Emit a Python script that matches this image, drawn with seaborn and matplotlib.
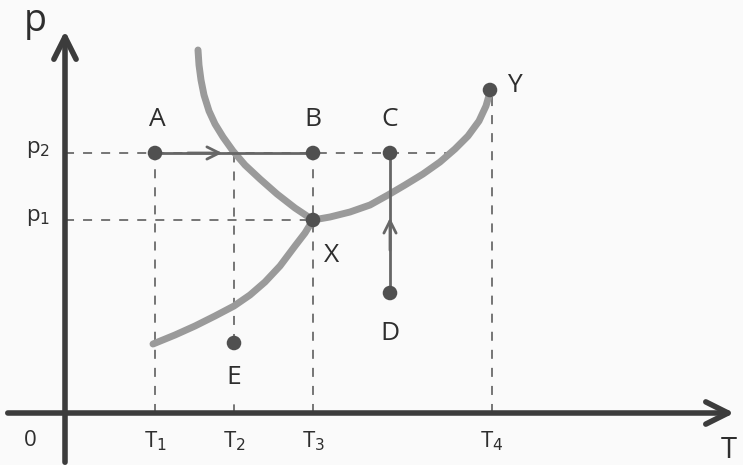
import matplotlib.pyplot as plt
import numpy as np
import pandas as pd
import seaborn as sns

# positions, origin at the axes' crossing
t_ticks = [90, 169, 248, 427]
t_labels = ["T$_1$", "T$_2$", "T$_3$", "T$_4$"]
p_ticks = [193, 260]
p_labels = ["p$_1$", "p$_2$"]

# sublimation curve (solid-gas)
sub_t = [88, 110, 130, 150, 169, 185, 200, 215, 230, 240, 248]
sub_p = [69, 78, 87, 97, 107, 118, 131, 147, 167, 180, 193]
# vaporisation curve X -> Y
vap_t = [248, 265, 285, 305, 323, 340, 358, 375, 390, 403, 414, 421, 425]
vap_p = [193, 196, 201, 208, 218, 228, 239, 251, 264, 277, 292, 307, 321]
# melting curve
mel_t = [133, 134, 136, 139, 144, 150, 158, 168, 180, 195, 212, 230, 248]
mel_p = [363, 348, 333, 318, 302, 289, 276, 262, 248, 234, 219, 205, 193]

pt_names = ["A", "B", "C", "D", "E", "X", "Y"]
pt_t = [90, 248, 325, 325, 169, 248, 425]
pt_p = [260, 260, 260, 120, 70, 193, 323]
lbl_dt = [2, 0, 0, 0, 0, 19, 24]
lbl_dp = [34, 34, 34, -41, -34, -35, 4]

sns.set_style("white")
plt.rcParams['font.family'] = ['Open Sans', 'DejaVu Sans']

fig = plt.figure(figsize=(7.43, 4.65), dpi=100)
fig.patch.set_facecolor("#fafafa")
ax = fig.add_axes([0, 0, 1, 1])
ax.set_facecolor("#fafafa")
ax.set_xlim(-65, 678)
ax.set_ylim(-52, 413)
ax.axis("off")

axis_col = "#3c3c3c"
dash_col = "#6a6a6a"
curve_col = "#9a9a9a"
pt_col = "#505050"
txt_col = "#2e2e2e"

# axes with arrows
ax.annotate("", xy=(672, 0), xytext=(-60, 0),
            arrowprops=dict(arrowstyle="->", lw=4, color=axis_col,
                            mutation_scale=40))
ax.annotate("", xy=(0, 385), xytext=(0, -52),
            arrowprops=dict(arrowstyle="->", lw=4, color=axis_col,
                            mutation_scale=40))

# dashed guide lines
dkw = dict(color=dash_col, lw=1.3, ls=(0, (5, 5)), zorder=1)
ax.plot([0, 390], [260, 260], **dkw)
ax.plot([0, 248], [193, 193], **dkw)
for t, top, bot in zip(t_ticks, [260, 260, 260, 323], [0, 70, 0, 0]):
    ax.plot([t, t], [bot, top], **dkw)
ax.plot([169, 169], [0, 8], color=dash_col, lw=1.3, zorder=1)

# phase curves
for tt, pp in [(sub_t, sub_p), (vap_t, vap_p), (mel_t, mel_p)]:
    sns.lineplot(x=tt, y=pp, sort=False, color=curve_col, lw=5,
                 solid_capstyle="round", solid_joinstyle="round",
                 ax=ax, zorder=2)

# process arrows A->B and D->C
ax.plot([90, 248], [260, 260], color="#666666", lw=2, zorder=3)
ax.annotate("", xy=(160, 260), xytext=(120, 260),
            arrowprops=dict(arrowstyle="->", lw=2, color="#666666",
                            mutation_scale=22))
ax.plot([325, 325], [120, 260], color="#666666", lw=2, zorder=3)
ax.annotate("", xy=(325, 198), xytext=(325, 160),
            arrowprops=dict(arrowstyle="->", lw=2, color="#666666",
                            mutation_scale=22))

df = pd.DataFrame({"T": pt_t, "p": pt_p, "name": pt_names})
sns.scatterplot(data=df, x="T", y="p", s=110, color=pt_col,
                edgecolor="none", ax=ax, zorder=5)
for name, t, p, dt, dp in zip(pt_names, pt_t, pt_p, lbl_dt, lbl_dp):
    ax.text(t + dt, p + dp, name, fontsize=19, color=txt_col,
            ha="center", va="center")

# tick labels
for t, lab in zip(t_ticks, t_labels):
    ax.text(t, -28, lab, fontsize=16, color=txt_col,
            ha="center", va="center")
for p, lab in zip(p_ticks, p_labels):
    ax.text(-27, p + 3, lab, fontsize=16, color=txt_col,
            ha="center", va="center")
ax.text(-35, -27, "0", fontsize=16, color=txt_col,
        ha="center", va="center")
ax.text(-30, 392, "p", fontsize=27, color=txt_col,
        ha="center", va="center")
ax.text(664, -37, "T", fontsize=21, color=txt_col,
        ha="center", va="center")

fig.savefig("out.png", dpi=100, facecolor=fig.get_facecolor())
